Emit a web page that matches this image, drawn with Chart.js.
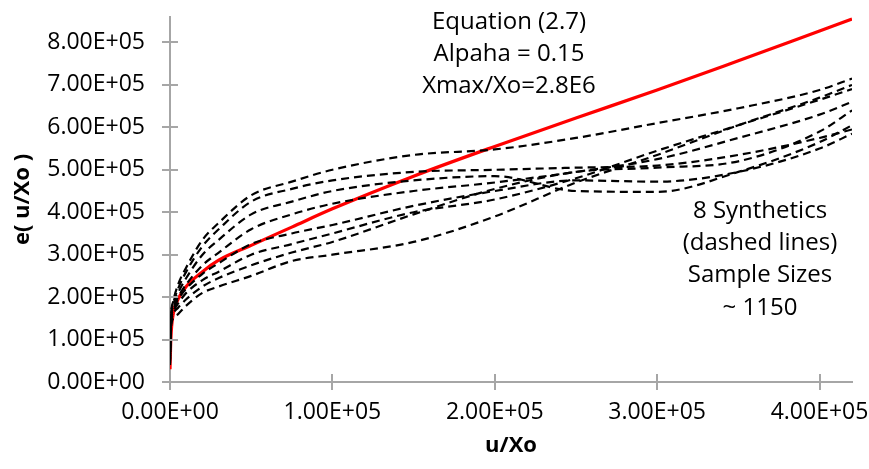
<!DOCTYPE html>
<html>
<head>
<meta charset="utf-8">
<script src="https://cdn.jsdelivr.net/npm/chart.js@4.4.1/dist/chart.umd.min.js"></script>
<style>
    html, body { margin: 0; padding: 0; background: #fff; }
    #box { width: 869px; height: 469px; }
</style>
</head>
<body>
<div id="box"><canvas id="grafico"></canvas></div>
<script>
// valores em unidades de 1E+05
const UNIDADE = 1e5;

const uXo = [0, 0.005, 0.02, 0.05, 0.1, 0.2, 0.3, 0.5, 0.75, 1.0, 1.5, 2.0, 2.5, 3.0, 3.5, 4.0, 4.2];

const equacao = [0.3, 1.0, 1.6, 1.95, 2.25, 2.6, 2.87, 3.22, 3.65, 4.08, 4.85, 5.55, 6.22, 6.88, 7.57, 8.27, 8.55];

const sint1 = [0.8, 1.5, 1.9, 2.3, 2.7, 3.35, 3.75, 4.4, 4.72, 5.0, 5.35, 5.48, 5.75, 6.1, 6.45, 6.88, 7.15];
const sint2 = [0.7, 1.45, 1.85, 2.2, 2.6, 3.2, 3.6, 4.25, 4.55, 4.75, 4.95, 5.0, 5.05, 5.1, 5.35, 5.75, 5.95];
const sint3 = [0.65, 1.4, 1.8, 2.1, 2.45, 3.0, 3.35, 3.95, 4.25, 4.5, 4.75, 4.85, 4.5, 4.48, 4.95, 5.65, 6.05];
const sint4 = [0.6, 1.4, 1.75, 2.0, 2.3, 2.75, 3.05, 3.6, 3.95, 4.2, 4.5, 4.7, 4.95, 5.25, 5.75, 6.3, 6.6];
const sint5 = [0.55, 1.35, 1.7, 1.95, 2.2, 2.55, 2.8, 3.25, 3.5, 3.7, 4.15, 4.5, 4.75, 4.72, 4.95, 5.5, 5.85];
const sint6 = [0.5, 1.3, 1.65, 1.85, 2.1, 2.4, 2.6, 3.0, 3.25, 3.5, 4.0, 4.3, 4.8, 5.45, 6.05, 6.65, 6.9];
const sint7 = [0.45, 1.25, 1.6, 1.75, 1.95, 2.25, 2.45, 2.75, 3.05, 3.3, 3.95, 4.55, 4.95, 5.05, 5.2, 5.9, 6.4];
const sint8 = [0.4, 1.2, 1.5, 1.6, 1.8, 2.1, 2.25, 2.5, 2.85, 3.0, 3.3, 3.9, 4.7, 5.35, 6.05, 6.7, 7.0];

const sinteticas = [sint1, sint2, sint3, sint4, sint5, sint6, sint7, sint8];

const ticksX = [0, 1e5, 2e5, 3e5, 4e5];
const ticksY = [0, 1e5, 2e5, 3e5, 4e5, 5e5, 6e5, 7e5, 8e5];

const textoEquacao = ["Equation (2.7)", "Alpaha = 0.15", "Xmax/Xo=2.8E6"];
const textoSinteticas = ["8 Synthetics", "(dashed lines)", "Sample Sizes", "~ 1150"];

const FONTE = "'Open Sans', 'DejaVu Sans', sans-serif";
const CINZA = "#a6a6a6";


function pontos(serie) {
    return serie.map((v, i) => ({ x: uXo[i] * UNIDADE, y: v * UNIDADE }));
}

function formatarE(v) {
    if (v === 0) return "0.00E+00";
    const [m, e] = v.toExponential(2).split("e");
    const sinal = e[0] === "-" ? "-" : "+";
    const exp = Math.abs(parseInt(e, 10)).toString().padStart(2, "0");
    return `${m}E${sinal}${exp}`;
}


// =========================
// PLUGINS
// =========================

const marcasInternas = {
    id: "marcasInternas",
    afterDraw(chart) {
        const ctx = chart.ctx;
        const sx = chart.scales.x;
        const sy = chart.scales.y;
        ctx.save();
        ctx.strokeStyle = CINZA;
        ctx.lineWidth = 2;
        ctx.beginPath();
        ticksX.forEach(v => {
            const px = Math.round(sx.getPixelForValue(v));
            ctx.moveTo(px, sy.bottom);
            ctx.lineTo(px, sy.bottom - 8);
        });
        ticksY.forEach(v => {
            const py = Math.round(sy.getPixelForValue(v));
            ctx.moveTo(sx.left, py);
            ctx.lineTo(sx.left + 8, py);
        });
        ctx.stroke();
        ctx.restore();
    }
};

const anotacoes = {
    id: "anotacoes",
    afterDraw(chart) {
        const ctx = chart.ctx;
        ctx.save();
        ctx.fillStyle = "#000";
        ctx.font = `24px ${FONTE}`;
        ctx.textAlign = "center";
        ctx.textBaseline = "middle";
        textoEquacao.forEach((t, i) => ctx.fillText(t, 509, 22 + i * 32));
        textoSinteticas.forEach((t, i) => ctx.fillText(t, 760, 211 + i * 32.3));
        ctx.restore();
    }
};


// =========================
// GRAFICO
// =========================

const conjuntos = sinteticas.map((s, i) => ({
    label: `Synthetic ${i + 1}`,
    data: pontos(s),
    borderColor: "#000",
    borderWidth: 2.2,
    borderDash: [8, 5],
    pointRadius: 0,
    cubicInterpolationMode: "monotone",
    showLine: true,
    fill: false
}));

conjuntos.push({
    label: "Equation (2.7)",
    data: pontos(equacao),
    borderColor: "#ff0000",
    borderWidth: 3.2,
    pointRadius: 0,
    cubicInterpolationMode: "monotone",
    showLine: true,
    fill: false
});

new Chart(document.getElementById("grafico"), {

    type: "scatter",

    data: { datasets: conjuntos },

    options: {

        responsive: true,
        maintainAspectRatio: false,
        animation: false,

        layout: { padding: 0 },

        plugins: {
            legend: { display: false },
            tooltip: { enabled: false }
        },

        scales: {

            x: {
                type: "linear",
                min: 0,
                max: 420000,
                afterBuildTicks: s => { s.ticks = ticksX.map(v => ({ value: v })); },
                afterFit: s => {
                    s.height = 87;
                    s.paddingLeft = 0;
                    s.paddingRight = 17;
                },
                ticks: {
                    callback: v => formatarE(v),
                    color: "#000",
                    font: { family: FONTE, size: 23 },
                    padding: 9,
                    maxRotation: 0
                },
                grid: {
                    drawOnChartArea: false,
                    tickLength: 8,
                    color: CINZA,
                    lineWidth: 2
                },
                border: { color: CINZA, width: 2 },
                title: {
                    display: true,
                    text: "u/Xo",
                    color: "#000",
                    font: { family: FONTE, size: 22, weight: "bold" },
                    padding: { top: 0, bottom: 10 }
                }
            },

            y: {
                type: "linear",
                min: 0,
                max: 860000,
                afterBuildTicks: s => { s.ticks = ticksY.map(v => ({ value: v })); },
                afterFit: s => {
                    s.width = 170;
                    s.paddingTop = 17;
                    s.paddingBottom = 0;
                },
                ticks: {
                    callback: v => formatarE(v),
                    color: "#000",
                    font: { family: FONTE, size: 23 },
                    padding: 17
                },
                grid: {
                    drawOnChartArea: false,
                    tickLength: 8,
                    color: CINZA,
                    lineWidth: 2
                },
                border: { color: CINZA, width: 2 },
                title: {
                    display: true,
                    text: "e( u/Xo )",
                    color: "#000",
                    font: { family: FONTE, size: 22, weight: "bold" },
                    padding: { top: 10, bottom: 0 }
                }
            }

        }

    },

    plugins: [marcasInternas, anotacoes]

});
</script>
</body>
</html>
